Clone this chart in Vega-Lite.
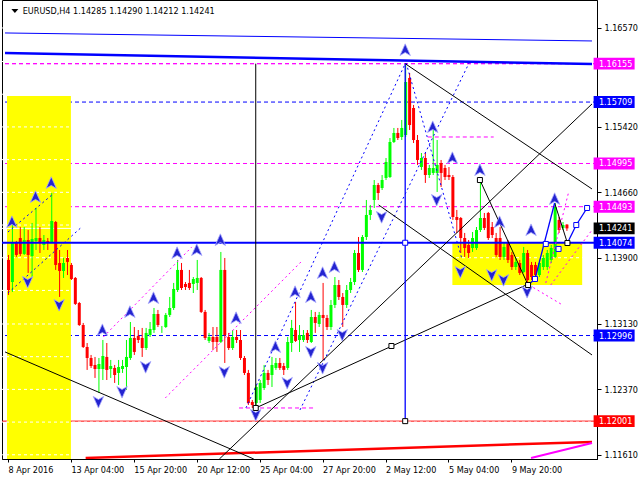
{
"$schema":"https://vega.github.io/schema/vega-lite/v6.json",
"width":595,"height":459,
"autosize":{"type":"none"},
"padding":{"left":2,"top":0,"right":43,"bottom":21},
"background":"#ffffff",
"config":{"view":{"stroke":"#000000","strokeWidth":1},
"axis":{"labelFont":"DejaVu Sans Condensed, Liberation Sans, sans-serif","labelFontSize":9,"labelColor":"#000000","tickColor":"#000000","domainColor":"#000000","grid":false}},
"datasets":{
"candles":[
{"i":0,"o":1.13874,"h":1.13932,"l":1.13467,"c":1.13525},
{"i":1,"o":1.13618,"h":1.14280,"l":1.13502,"c":1.14071},
{"i":2,"o":1.14071,"h":1.14095,"l":1.13909,"c":1.13932},
{"i":3,"o":1.14129,"h":1.14257,"l":1.13920,"c":1.13944},
{"i":4,"o":1.13944,"h":1.14257,"l":1.13932,"c":1.14106},
{"i":5,"o":1.14106,"h":1.14222,"l":1.13723,"c":1.13932},
{"i":6,"o":1.13920,"h":1.14304,"l":1.13676,"c":1.14118},
{"i":7,"o":1.14095,"h":1.14478,"l":1.13990,"c":1.14129},
{"i":8,"o":1.14129,"h":1.14257,"l":1.13955,"c":1.14071},
{"i":9,"o":1.14048,"h":1.14164,"l":1.13990,"c":1.14106},
{"i":10,"o":1.14095,"h":1.14129,"l":1.13990,"c":1.14071},
{"i":11,"o":1.14071,"h":1.14652,"l":1.14071,"c":1.14327},
{"i":12,"o":1.14315,"h":1.14327,"l":1.13758,"c":1.13816},
{"i":13,"o":1.13839,"h":1.13990,"l":1.13444,"c":1.13746},
{"i":14,"o":1.13746,"h":1.13897,"l":1.13665,"c":1.13839},
{"i":15,"o":1.13897,"h":1.13990,"l":1.13699,"c":1.13851},
{"i":16,"o":1.13816,"h":1.13839,"l":1.13641,"c":1.13653},
{"i":17,"o":1.13665,"h":1.13676,"l":1.13351,"c":1.13363},
{"i":18,"o":1.13374,"h":1.13386,"l":1.13107,"c":1.13118},
{"i":19,"o":1.13118,"h":1.13142,"l":1.12851,"c":1.12863},
{"i":20,"o":1.12863,"h":1.12909,"l":1.12596,"c":1.12735},
{"i":21,"o":1.12735,"h":1.12770,"l":1.12619,"c":1.12642},
{"i":22,"o":1.12654,"h":1.12747,"l":1.12503,"c":1.12607},
{"i":23,"o":1.12607,"h":1.12735,"l":1.12328,"c":1.12665},
{"i":24,"o":1.12607,"h":1.12944,"l":1.12479,"c":1.12758},
{"i":25,"o":1.12747,"h":1.12909,"l":1.12479,"c":1.12596},
{"i":26,"o":1.12607,"h":1.12712,"l":1.12503,"c":1.12642},
{"i":27,"o":1.12619,"h":1.12654,"l":1.12445,"c":1.12537},
{"i":28,"o":1.12561,"h":1.12712,"l":1.12421,"c":1.12630},
{"i":29,"o":1.12607,"h":1.12712,"l":1.12561,"c":1.12642},
{"i":30,"o":1.12630,"h":1.12944,"l":1.12363,"c":1.12747},
{"i":31,"o":1.12735,"h":1.13153,"l":1.12712,"c":1.12967},
{"i":32,"o":1.12967,"h":1.13095,"l":1.12770,"c":1.12805},
{"i":33,"o":1.12991,"h":1.13060,"l":1.12909,"c":1.12944},
{"i":34,"o":1.12967,"h":1.13084,"l":1.12747,"c":1.12851},
{"i":35,"o":1.12851,"h":1.13084,"l":1.12828,"c":1.13026},
{"i":36,"o":1.13002,"h":1.13153,"l":1.12979,"c":1.13072},
{"i":37,"o":1.13060,"h":1.13316,"l":1.13026,"c":1.13246},
{"i":38,"o":1.13246,"h":1.13293,"l":1.13095,"c":1.13118},
{"i":39,"o":1.13072,"h":1.13107,"l":1.13026,"c":1.13072},
{"i":40,"o":1.13095,"h":1.13258,"l":1.13084,"c":1.13235},
{"i":41,"o":1.13235,"h":1.13444,"l":1.13211,"c":1.13316},
{"i":42,"o":1.13316,"h":1.13607,"l":1.13293,"c":1.13537},
{"i":43,"o":1.13525,"h":1.13874,"l":1.13502,"c":1.13758},
{"i":44,"o":1.13758,"h":1.13839,"l":1.13525,"c":1.13548},
{"i":45,"o":1.13595,"h":1.13618,"l":1.13525,"c":1.13560},
{"i":46,"o":1.13607,"h":1.13758,"l":1.13525,"c":1.13548},
{"i":47,"o":1.13595,"h":1.13676,"l":1.13490,"c":1.13653},
{"i":48,"o":1.13607,"h":1.13874,"l":1.13525,"c":1.13665},
{"i":49,"o":1.13665,"h":1.13676,"l":1.13258,"c":1.13270},
{"i":50,"o":1.13270,"h":1.13293,"l":1.12944,"c":1.12967},
{"i":51,"o":1.12933,"h":1.13026,"l":1.12909,"c":1.12979},
{"i":52,"o":1.12979,"h":1.13095,"l":1.12828,"c":1.12921},
{"i":53,"o":1.12979,"h":1.13095,"l":1.12805,"c":1.12921},
{"i":54,"o":1.12921,"h":1.13967,"l":1.12909,"c":1.13758},
{"i":55,"o":1.13758,"h":1.13897,"l":1.12677,"c":1.13002},
{"i":56,"o":1.12979,"h":1.13026,"l":1.12828,"c":1.12851},
{"i":57,"o":1.12851,"h":1.13060,"l":1.12828,"c":1.12979},
{"i":58,"o":1.12979,"h":1.13060,"l":1.12909,"c":1.12944},
{"i":59,"o":1.12944,"h":1.13060,"l":1.12712,"c":1.12735},
{"i":60,"o":1.12735,"h":1.12758,"l":1.12537,"c":1.12561},
{"i":61,"o":1.12561,"h":1.12596,"l":1.12189,"c":1.12212},
{"i":62,"o":1.12224,"h":1.12247,"l":1.12154,"c":1.12189},
{"i":63,"o":1.12212,"h":1.12421,"l":1.12189,"c":1.12398},
{"i":64,"o":1.12247,"h":1.12479,"l":1.12212,"c":1.12445},
{"i":65,"o":1.12386,"h":1.12654,"l":1.12363,"c":1.12561},
{"i":66,"o":1.12561,"h":1.12596,"l":1.12421,"c":1.12479},
{"i":67,"o":1.12537,"h":1.12747,"l":1.12398,"c":1.12654},
{"i":68,"o":1.12619,"h":1.12735,"l":1.12596,"c":1.12677},
{"i":69,"o":1.12677,"h":1.12735,"l":1.12596,"c":1.12619},
{"i":70,"o":1.12642,"h":1.12677,"l":1.12537,"c":1.12596},
{"i":71,"o":1.12619,"h":1.12979,"l":1.12596,"c":1.12921},
{"i":72,"o":1.12909,"h":1.13177,"l":1.12805,"c":1.13084},
{"i":73,"o":1.13060,"h":1.13386,"l":1.12921,"c":1.12933},
{"i":74,"o":1.12944,"h":1.13118,"l":1.12805,"c":1.13002},
{"i":75,"o":1.12944,"h":1.13060,"l":1.12921,"c":1.13002},
{"i":76,"o":1.13026,"h":1.13060,"l":1.12909,"c":1.12944},
{"i":77,"o":1.12921,"h":1.13293,"l":1.12909,"c":1.13211},
{"i":78,"o":1.13211,"h":1.13270,"l":1.13026,"c":1.13142},
{"i":79,"o":1.13130,"h":1.13270,"l":1.13095,"c":1.13235},
{"i":80,"o":1.13235,"h":1.13607,"l":1.12712,"c":1.13200},
{"i":81,"o":1.13200,"h":1.13235,"l":1.13060,"c":1.13095},
{"i":82,"o":1.13095,"h":1.13409,"l":1.13060,"c":1.13351},
{"i":83,"o":1.13351,"h":1.13676,"l":1.13316,"c":1.13583},
{"i":84,"o":1.13583,"h":1.13641,"l":1.13409,"c":1.13444},
{"i":85,"o":1.13444,"h":1.13490,"l":1.13095,"c":1.13351},
{"i":86,"o":1.13351,"h":1.13583,"l":1.13316,"c":1.13525},
{"i":87,"o":1.13525,"h":1.13665,"l":1.13490,"c":1.13618},
{"i":88,"o":1.13618,"h":1.13990,"l":1.13583,"c":1.13955},
{"i":89,"o":1.13955,"h":1.14141,"l":1.13734,"c":1.13758},
{"i":90,"o":1.13758,"h":1.14164,"l":1.13734,"c":1.14141},
{"i":91,"o":1.14141,"h":1.14571,"l":1.14106,"c":1.14397},
{"i":92,"o":1.14397,"h":1.14513,"l":1.14339,"c":1.14455},
{"i":93,"o":1.14571,"h":1.14803,"l":1.14478,"c":1.14745},
{"i":94,"o":1.14745,"h":1.14769,"l":1.14571,"c":1.14652},
{"i":95,"o":1.14710,"h":1.14861,"l":1.14687,"c":1.14803},
{"i":96,"o":1.14827,"h":1.15059,"l":1.14803,"c":1.15013},
{"i":97,"o":1.14838,"h":1.15291,"l":1.14827,"c":1.15245},
{"i":98,"o":1.15245,"h":1.15408,"l":1.15233,"c":1.15350},
{"i":99,"o":1.15350,"h":1.15408,"l":1.15268,"c":1.15291},
{"i":100,"o":1.15303,"h":1.15501,"l":1.15268,"c":1.15408},
{"i":101,"o":1.15326,"h":1.16155,"l":1.15303,"c":1.15942},
{"i":102,"o":1.15989,"h":1.16047,"l":1.15384,"c":1.15442},
{"i":103,"o":1.15640,"h":1.15675,"l":1.15233,"c":1.15268},
{"i":104,"o":1.15268,"h":1.15326,"l":1.14978,"c":1.15036},
{"i":105,"o":1.14954,"h":1.15117,"l":1.14920,"c":1.15059},
{"i":106,"o":1.15059,"h":1.15117,"l":1.14769,"c":1.14861},
{"i":107,"o":1.14861,"h":1.14978,"l":1.14827,"c":1.14943},
{"i":108,"o":1.14885,"h":1.15384,"l":1.14861,"c":1.14943},
{"i":109,"o":1.14885,"h":1.15268,"l":1.14664,"c":1.14978},
{"i":110,"o":1.15001,"h":1.15036,"l":1.14722,"c":1.14885},
{"i":111,"o":1.14943,"h":1.14978,"l":1.14803,"c":1.14838},
{"i":112,"o":1.14861,"h":1.14954,"l":1.14803,"c":1.14838},
{"i":113,"o":1.14838,"h":1.14861,"l":1.14339,"c":1.14373},
{"i":114,"o":1.14373,"h":1.14455,"l":1.14188,"c":1.14339},
{"i":115,"o":1.14362,"h":1.14373,"l":1.13955,"c":1.14129},
{"i":116,"o":1.14129,"h":1.14188,"l":1.13909,"c":1.14013},
{"i":117,"o":1.14048,"h":1.14106,"l":1.13897,"c":1.13955},
{"i":118,"o":1.14013,"h":1.14199,"l":1.13967,"c":1.14129},
{"i":119,"o":1.14013,"h":1.14257,"l":1.13990,"c":1.14222},
{"i":120,"o":1.14222,"h":1.14803,"l":1.14199,"c":1.14362},
{"i":121,"o":1.14362,"h":1.14420,"l":1.14222,"c":1.14246},
{"i":122,"o":1.14420,"h":1.14432,"l":1.14106,"c":1.14129},
{"i":123,"o":1.14257,"h":1.14315,"l":1.14129,"c":1.14164},
{"i":124,"o":1.14129,"h":1.14188,"l":1.13909,"c":1.13932},
{"i":125,"o":1.14129,"h":1.14257,"l":1.13874,"c":1.13909},
{"i":126,"o":1.13909,"h":1.14071,"l":1.13874,"c":1.14025},
{"i":127,"o":1.14071,"h":1.14106,"l":1.13839,"c":1.13874},
{"i":128,"o":1.13932,"h":1.13967,"l":1.13758,"c":1.13792},
{"i":129,"o":1.13792,"h":1.13897,"l":1.13758,"c":1.13851},
{"i":130,"o":1.13839,"h":1.13874,"l":1.13699,"c":1.13723},
{"i":131,"o":1.13734,"h":1.14025,"l":1.13723,"c":1.13955},
{"i":132,"o":1.13955,"h":1.13990,"l":1.13583,"c":1.13641},
{"i":133,"o":1.13816,"h":1.13851,"l":1.13641,"c":1.13676},
{"i":134,"o":1.13816,"h":1.13851,"l":1.13641,"c":1.13699},
{"i":135,"o":1.13699,"h":1.13874,"l":1.13676,"c":1.13839},
{"i":136,"o":1.13792,"h":1.13932,"l":1.13758,"c":1.13897},
{"i":137,"o":1.13792,"h":1.13990,"l":1.13758,"c":1.13955},
{"i":138,"o":1.13874,"h":1.14048,"l":1.13839,"c":1.14013},
{"i":139,"o":1.13909,"h":1.14536,"l":1.13897,"c":1.14490},
{"i":140,"o":1.14339,"h":1.14373,"l":1.14188,"c":1.14222},
{"i":141,"o":1.14246,"h":1.14315,"l":1.14222,"c":1.14280},
{"i":142,"o":1.14285,"h":1.14290,"l":1.14212,"c":1.14241}
],
"levels":[
{"p":1.16155,"kind":"magenta"},
{"p":1.15709,"kind":"blue"},
{"p":1.14995,"kind":"magenta"},
{"p":1.14493,"kind":"magenta"},
{"p":1.14241,"kind":"bid"},
{"p":1.14074,"kind":"support"},
{"p":1.12996,"kind":"blue"},
{"p":1.12001,"kind":"red"}
],
"ticks":[{"p":1.1657},{"p":1.1618},{"p":1.158},{"p":1.1542},{"p":1.1504},{"p":1.1466},{"p":1.1428},{"p":1.139},{"p":1.1352},{"p":1.1313},{"p":1.1275},{"p":1.1237},{"p":1.1199},{"p":1.1161}],
"zones":[{"x1":-0.25,"x2":16,"y1":1.11561,"y2":1.15779},{"x1":113,"x2":146,"y1":1.13583,"y2":1.14074}],
"segs":[
{"k":"black","x1":101,"y1":1.16155,"x2":148.5,"y2":1.14699},
{"k":"black","x1":53.75,"y1":1.11561,"x2":148.5,"y2":1.15687},
{"k":"black","x1":-0.75,"y1":1.12805,"x2":62.5,"y2":1.11561},
{"k":"black","x1":63,"y1":1.12154,"x2":131.75,"y2":1.13583},
{"k":"black","x1":94.25,"y1":1.14513,"x2":148.5,"y2":1.1277},
{"k":"black","x1":63,"y1":1.16155,"x2":63,"y2":1.12154},
{"k":"black","x1":120,"y1":1.14803,"x2":132.25,"y2":1.13583},
{"k":"black","x1":139,"y1":1.14536,"x2":142.25,"y2":1.14071},
{"k":"blueSolid","x1":101,"y1":1.16155,"x2":101,"y2":1.12001},
{"k":"blueSolid","x1":132.25,"y1":1.13583,"x2":134,"y2":1.13653},
{"k":"blueSolid","x1":134,"y1":1.13653,"x2":139,"y2":1.14536},
{"k":"blueSolid","x1":142.25,"y1":1.14071,"x2":144.5,"y2":1.1428},
{"k":"blueSolid","x1":144.5,"y1":1.1428,"x2":147.25,"y2":1.14478},
{"k":"blueDot","x1":60.5,"y1":1.12154,"x2":101,"y2":1.16155},
{"k":"blueDot","x1":74.25,"y1":1.12131,"x2":117.25,"y2":1.16163},
{"k":"blueDot","x1":101.25,"y1":1.16163,"x2":115.5,"y2":1.13874},
{"k":"blueDot","x1":0,"y1":1.1349,"x2":18.75,"y2":1.14257},
{"k":"blueDot","x1":0,"y1":1.14199,"x2":11.75,"y2":1.14652},
{"k":"magDot","x1":24.25,"y1":1.12979,"x2":46.75,"y2":1.14025},
{"k":"magDot","x1":40,"y1":1.1227,"x2":75,"y2":1.13874},
{"k":"magDot","x1":136.75,"y1":1.13607,"x2":142.5,"y2":1.14652},
{"k":"magDot","x1":132.5,"y1":1.13583,"x2":141,"y2":1.13351},
{"k":"magDot","x1":138,"y1":1.13583,"x2":148.5,"y2":1.14222},
{"k":"magDash","x1":106.75,"y1":1.15303,"x2":123.5,"y2":1.15303},
{"k":"magDash","x1":58.75,"y1":1.12154,"x2":78,"y2":1.12154},
{"k":"topThin","x1":-0.75,"y1":1.16512,"x2":148.5,"y2":1.16419},
{"k":"topThick","x1":-0.75,"y1":1.16279,"x2":148.5,"y2":1.16151},
{"k":"redThick","x1":19.75,"y1":1.11573,"x2":148.5,"y2":1.11759},
{"k":"magThick","x1":133,"y1":1.11573,"x2":148.5,"y2":1.11747}
],
"fractals":[
{"x":1,"y":1.14315,"d":"up"},{"x":7,"y":1.14606,"d":"up"},{"x":11,"y":1.14769,"d":"up"},
{"x":24,"y":1.1306,"d":"up"},{"x":31,"y":1.1327,"d":"up"},{"x":37,"y":1.13432,"d":"up"},
{"x":43,"y":1.13955,"d":"up"},{"x":48,"y":1.1399,"d":"up"},{"x":54,"y":1.14106,"d":"up"},
{"x":58,"y":1.132,"d":"up"},{"x":68,"y":1.12863,"d":"up"},{"x":73,"y":1.13502,"d":"up"},
{"x":77,"y":1.13444,"d":"up"},{"x":80,"y":1.13723,"d":"up"},{"x":83,"y":1.13792,"d":"up"},
{"x":101,"y":1.16314,"d":"up"},{"x":108,"y":1.15419,"d":"up"},{"x":113,"y":1.15059,"d":"up"},
{"x":120,"y":1.1492,"d":"up"},{"x":125,"y":1.14315,"d":"up"},{"x":133,"y":1.14222,"d":"up"},
{"x":139,"y":1.14583,"d":"up"},
{"x":5,"y":1.13618,"d":"down"},{"x":13,"y":1.13351,"d":"down"},{"x":23,"y":1.12224,"d":"down"},
{"x":29,"y":1.1234,"d":"down"},{"x":35,"y":1.1263,"d":"down"},{"x":55,"y":1.12572,"d":"down"},
{"x":63,"y":1.12073,"d":"down"},{"x":71,"y":1.12445,"d":"down"},{"x":77,"y":1.12805,"d":"down"},
{"x":80,"y":1.12619,"d":"down"},{"x":85,"y":1.13002,"d":"down"},{"x":95,"y":1.14373,"d":"down"},
{"x":109,"y":1.14571,"d":"down"},{"x":115,"y":1.13734,"d":"down"},{"x":123,"y":1.13699,"d":"down"},
{"x":126,"y":1.13641,"d":"down"},{"x":132,"y":1.13502,"d":"down"}
],
"anchors":[
{"x":63,"y":1.12154,"k":"black"},{"x":97.5,"y":1.12874,"k":"black"},{"x":101,"y":1.12001,"k":"black"},
{"x":101,"y":1.14074,"k":"blue"},{"x":120,"y":1.14803,"k":"black"},{"x":132.25,"y":1.13583,"k":"black"},
{"x":142.25,"y":1.14071,"k":"black"},{"x":134,"y":1.13653,"k":"blue"},{"x":136.75,"y":1.1406,"k":"blue"},
{"x":140,"y":1.14002,"k":"blue"},{"x":144.5,"y":1.1428,"k":"blue"},{"x":147.25,"y":1.14478,"k":"blue"}
]
},
"layer":[
{"data":{"name":"levels"},"transform":[{"filter":"datum.kind=='magenta'"}],
 "mark":{"type":"rule","color":"#ff00ff","strokeWidth":1,"strokeDash":[4,3]},
 "encoding":{"y":{"field":"p","type":"quantitative","scale":{"domain":[1.11561,1.16895],"nice":false,"zero":false},"title":null}}},
{"data":{"name":"levels"},"transform":[{"filter":"datum.kind=='blue'"}],
 "mark":{"type":"rule","color":"#0000ff","strokeWidth":1,"strokeDash":[4,3]},
 "encoding":{"y":{"field":"p","type":"quantitative","scale":{"domain":[1.11561,1.16895],"nice":false,"zero":false},"title":null}}},
{"data":{"name":"levels"},"transform":[{"filter":"datum.kind=='red'"}],
 "mark":{"type":"rule","color":"#ff0000","strokeWidth":1},
 "encoding":{"y":{"field":"p","type":"quantitative","scale":{"domain":[1.11561,1.16895],"nice":false,"zero":false},"title":null}}},
{"data":{"name":"zones"},
 "mark":{"type":"rect","color":"#ffff00","opacity":1,"clip":true},
 "encoding":{"x":{"field":"x1","type":"quantitative","scale":{"domain":[-0.25,148.5],"nice":false,"zero":false},"title":null},"x2":{"field":"x2"},
 "y":{"field":"y1","type":"quantitative","scale":{"domain":[1.11561,1.16895],"nice":false,"zero":false},"title":null},"y2":{"field":"y2"}}},
{"data":{"name":"ticks"},
 "mark":{"type":"rule","color":"#ffffff","strokeWidth":1,"strokeDash":[3,3]},
 "encoding":{"y":{"field":"p","type":"quantitative","scale":{"domain":[1.11561,1.16895],"nice":false,"zero":false},"title":null}}},
{"data":{"name":"levels"},"transform":[{"filter":"datum.kind=='bid'"}],
 "mark":{"type":"rule","color":"#ffffff","strokeWidth":1},
 "encoding":{"y":{"field":"p","type":"quantitative","scale":{"domain":[1.11561,1.16895],"nice":false,"zero":false},"title":null}}},
{"data":{"name":"candles"},
 "mark":{"type":"rule","strokeWidth":1,"xOffset":0.5},
 "encoding":{
  "x":{"field":"i","type":"quantitative","scale":{"domain":[-0.25,148.5],"nice":false,"zero":false},"title":null,
   "axis":{"values":[0,16,32,48,64,80,96,112,128],"labelExpr":"['8 Apr 2016','13 Apr 04:00','15 Apr 20:00','20 Apr 12:00','25 Apr 04:00','27 Apr 20:00','2 May 12:00','5 May 04:00','9 May 20:00'][round(datum.value/16)]","labelAlign":"left","labelBaseline":"top","tickSize":3,"labelPadding":3,"labelFlush":false,"labelOverlap":false,"labelBound":false,"grid":false}},
  "y":{"field":"l","type":"quantitative","scale":{"domain":[1.11561,1.16895],"nice":false,"zero":false},"title":null,
   "axis":{"orient":"right","values":[1.1657,1.158,1.1542,1.1504,1.1466,1.1428,1.139,1.1352,1.1313,1.1275,1.1237,1.1199,1.1161],"format":".5f","tickSize":4,"labelPadding":3,"labelOverlap":false,"labelBound":false,"labelFlush":false,"grid":false}},
  "y2":{"field":"h"},
  "color":{"condition":{"test":"datum.c >= datum.o","value":"#00ff00"},"value":"#ff0000"}}},
{"data":{"name":"candles"},
 "mark":{"type":"bar","size":3,"xOffset":0.5},
 "encoding":{
  "x":{"field":"i","type":"quantitative","scale":{"domain":[-0.25,148.5],"nice":false,"zero":false},"title":null},
  "y":{"field":"o","type":"quantitative","scale":{"domain":[1.11561,1.16895],"nice":false,"zero":false},"title":null},
  "y2":{"field":"c"},
  "color":{"condition":{"test":"datum.c >= datum.o","value":"#00ff00"},"value":"#ff0000"}}},
{"data":{"name":"levels"},"transform":[{"filter":"datum.kind=='support'"}],
 "mark":{"type":"rule","color":"#0000ff","strokeWidth":2},
 "encoding":{"y":{"field":"p","type":"quantitative","scale":{"domain":[1.11561,1.16895],"nice":false,"zero":false},"title":null}}},
{"data":{"name":"levels"},"transform":[{"filter":"datum.p > 1.16"}],
 "mark":{"type":"rule","color":"#ff00ff","strokeWidth":1,"strokeDash":[4,3]},
 "encoding":{"y":{"field":"p","type":"quantitative","scale":{"domain":[1.11561,1.16895],"nice":false,"zero":false},"title":null}}},
{"data":{"name":"segs"},"transform":[{"filter":"datum.k=='topThin'"}],
 "mark":{"type":"rule","color":"#0000ff","strokeWidth":1,"clip":true},
 "encoding":{"x":{"field":"x1","type":"quantitative","scale":{"domain":[-0.25,148.5],"nice":false,"zero":false},"title":null},"x2":{"field":"x2"},
 "y":{"field":"y1","type":"quantitative","scale":{"domain":[1.11561,1.16895],"nice":false,"zero":false},"title":null},"y2":{"field":"y2"}}},
{"data":{"name":"segs"},"transform":[{"filter":"datum.k=='topThick'"}],
 "mark":{"type":"rule","color":"#0000ff","strokeWidth":2.5,"clip":true},
 "encoding":{"x":{"field":"x1","type":"quantitative","scale":{"domain":[-0.25,148.5],"nice":false,"zero":false},"title":null},"x2":{"field":"x2"},
 "y":{"field":"y1","type":"quantitative","scale":{"domain":[1.11561,1.16895],"nice":false,"zero":false},"title":null},"y2":{"field":"y2"}}},
{"data":{"name":"segs"},"transform":[{"filter":"datum.k=='redThick'"}],
 "mark":{"type":"rule","color":"#ff0000","strokeWidth":2.5,"clip":true},
 "encoding":{"x":{"field":"x1","type":"quantitative","scale":{"domain":[-0.25,148.5],"nice":false,"zero":false},"title":null},"x2":{"field":"x2"},
 "y":{"field":"y1","type":"quantitative","scale":{"domain":[1.11561,1.16895],"nice":false,"zero":false},"title":null},"y2":{"field":"y2"}}},
{"data":{"name":"segs"},"transform":[{"filter":"datum.k=='magThick'"}],
 "mark":{"type":"rule","color":"#ff00ff","strokeWidth":2,"clip":true},
 "encoding":{"x":{"field":"x1","type":"quantitative","scale":{"domain":[-0.25,148.5],"nice":false,"zero":false},"title":null},"x2":{"field":"x2"},
 "y":{"field":"y1","type":"quantitative","scale":{"domain":[1.11561,1.16895],"nice":false,"zero":false},"title":null},"y2":{"field":"y2"}}},
{"data":{"name":"segs"},"transform":[{"filter":"datum.k=='blueDot'"}],
 "mark":{"type":"rule","color":"#0000ff","strokeWidth":1,"strokeDash":[2,3],"clip":true},
 "encoding":{"x":{"field":"x1","type":"quantitative","scale":{"domain":[-0.25,148.5],"nice":false,"zero":false},"title":null},"x2":{"field":"x2"},
 "y":{"field":"y1","type":"quantitative","scale":{"domain":[1.11561,1.16895],"nice":false,"zero":false},"title":null},"y2":{"field":"y2"}}},
{"data":{"name":"segs"},"transform":[{"filter":"datum.k=='magDot'"}],
 "mark":{"type":"rule","color":"#ff00ff","strokeWidth":1,"strokeDash":[2,3],"clip":true},
 "encoding":{"x":{"field":"x1","type":"quantitative","scale":{"domain":[-0.25,148.5],"nice":false,"zero":false},"title":null},"x2":{"field":"x2"},
 "y":{"field":"y1","type":"quantitative","scale":{"domain":[1.11561,1.16895],"nice":false,"zero":false},"title":null},"y2":{"field":"y2"}}},
{"data":{"name":"segs"},"transform":[{"filter":"datum.k=='magDash'"}],
 "mark":{"type":"rule","color":"#ff00ff","strokeWidth":1,"strokeDash":[4,3],"clip":true},
 "encoding":{"x":{"field":"x1","type":"quantitative","scale":{"domain":[-0.25,148.5],"nice":false,"zero":false},"title":null},"x2":{"field":"x2"},
 "y":{"field":"y1","type":"quantitative","scale":{"domain":[1.11561,1.16895],"nice":false,"zero":false},"title":null},"y2":{"field":"y2"}}},
{"data":{"name":"segs"},"transform":[{"filter":"datum.k=='black'"}],
 "mark":{"type":"rule","color":"#000000","strokeWidth":1,"clip":true},
 "encoding":{"x":{"field":"x1","type":"quantitative","scale":{"domain":[-0.25,148.5],"nice":false,"zero":false},"title":null},"x2":{"field":"x2"},
 "y":{"field":"y1","type":"quantitative","scale":{"domain":[1.11561,1.16895],"nice":false,"zero":false},"title":null},"y2":{"field":"y2"}}},
{"data":{"name":"segs"},"transform":[{"filter":"datum.k=='blueSolid'"}],
 "mark":{"type":"rule","color":"#0000ff","strokeWidth":1.3,"clip":true},
 "encoding":{"x":{"field":"x1","type":"quantitative","scale":{"domain":[-0.25,148.5],"nice":false,"zero":false},"title":null},"x2":{"field":"x2"},
 "y":{"field":"y1","type":"quantitative","scale":{"domain":[1.11561,1.16895],"nice":false,"zero":false},"title":null},"y2":{"field":"y2"}}},
{"data":{"name":"fractals"},"transform":[{"filter":"datum.d=='up'"}],
 "mark":{"type":"point","shape":"M0,-1L0.85,0.9L0,0.4L-0.85,0.9Z","size":150,"filled":true,"fill":"#2424d0","stroke":"#a8a8ff","strokeWidth":0.8,"opacity":1},
 "encoding":{"x":{"field":"x","type":"quantitative","scale":{"domain":[-0.25,148.5],"nice":false,"zero":false},"title":null},
 "y":{"field":"y","type":"quantitative","scale":{"domain":[1.11561,1.16895],"nice":false,"zero":false},"title":null}}},
{"data":{"name":"fractals"},"transform":[{"filter":"datum.d=='down'"}],
 "mark":{"type":"point","shape":"M0,1L0.85,-0.9L0,-0.4L-0.85,-0.9Z","size":150,"filled":true,"fill":"#2424d0","stroke":"#a8a8ff","strokeWidth":0.8,"opacity":1},
 "encoding":{"x":{"field":"x","type":"quantitative","scale":{"domain":[-0.25,148.5],"nice":false,"zero":false},"title":null},
 "y":{"field":"y","type":"quantitative","scale":{"domain":[1.11561,1.16895],"nice":false,"zero":false},"title":null}}},
{"data":{"name":"anchors"},
 "mark":{"type":"point","shape":"square","size":25,"fill":"#ffffff","strokeWidth":1,"opacity":1},
 "encoding":{"x":{"field":"x","type":"quantitative","scale":{"domain":[-0.25,148.5],"nice":false,"zero":false},"title":null},
 "y":{"field":"y","type":"quantitative","scale":{"domain":[1.11561,1.16895],"nice":false,"zero":false},"title":null},
 "stroke":{"field":"k","type":"nominal","scale":{"domain":["black","blue"],"range":["#000000","#0000ff"]},"legend":null}}},
{"data":{"values":[{}]},
 "mark":{"type":"point","shape":"M-1,-0.6L1,-0.6L0,0.6Z","size":49,"filled":true,"fill":"#000000","opacity":1},
 "encoding":{"x":{"datum":1.75,"type":"quantitative","scale":{"domain":[-0.25,148.5],"nice":false,"zero":false},"title":null},
 "y":{"datum":1.16767,"type":"quantitative","scale":{"domain":[1.11561,1.16895],"nice":false,"zero":false},"title":null}}},
{"data":{"values":[{}]},
 "mark":{"type":"text","text":"EURUSD,H4  1.14285 1.14290 1.14212 1.14241","align":"left","baseline":"middle","font":"DejaVu Sans Condensed, Liberation Sans, sans-serif","fontSize":9,"color":"#000000"},
 "encoding":{"x":{"datum":3.75,"type":"quantitative","scale":{"domain":[-0.25,148.5],"nice":false,"zero":false},"title":null},
 "y":{"datum":1.16767,"type":"quantitative","scale":{"domain":[1.11561,1.16895],"nice":false,"zero":false},"title":null}}},
{"data":{"name":"levels"},
 "mark":{"type":"point","shape":"M-1,-0.29H1V0.29H-1Z","size":1681,"filled":true,"opacity":1,"clip":false},
 "encoding":{"x":{"datum":154.125,"type":"quantitative","scale":{"domain":[-0.25,148.5],"nice":false,"zero":false},"title":null},
 "y":{"field":"p","type":"quantitative","scale":{"domain":[1.11561,1.16895],"nice":false,"zero":false},"title":null},
 "color":{"field":"kind","type":"nominal","scale":{"domain":["magenta","blue","support","bid","red"],"range":["#ff00ff","#0000ff","#0000ff","#000000","#ff0000"]},"legend":null}}},
{"data":{"name":"levels"},
 "mark":{"type":"text","align":"left","baseline":"middle","font":"DejaVu Sans Condensed, Liberation Sans, sans-serif","fontSize":9,"color":"#ffffff","clip":false},
 "encoding":{"x":{"datum":150.25,"type":"quantitative","scale":{"domain":[-0.25,148.5],"nice":false,"zero":false},"title":null},
 "y":{"field":"p","type":"quantitative","scale":{"domain":[1.11561,1.16895],"nice":false,"zero":false},"title":null},
 "text":{"field":"p","type":"quantitative","format":".5f"}}}
]
}
